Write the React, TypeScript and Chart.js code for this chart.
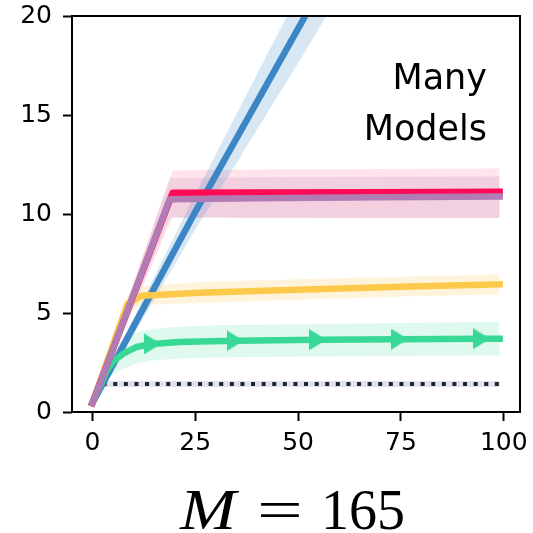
import React, { useEffect, useRef } from "react";
import { Chart, registerables } from "chart.js";
Chart.register(...registerables);

const xTicks = [0, 25, 50, 75, 100];
const yTicks = [0, 5, 10, 15, 20];

const blueX = [0, 25, 52, 99];
const blueY = [0.45, 10.1, 20.1, 38.0];
const blueLo = [0.35, 9.2, 18.3, 34.7];
const blueHi = [0.55, 11.0, 21.9, 41.3];

const redX = [0, 19.5, 40, 70, 99];
const redY = [0.45, 11.07, 11.08, 11.1, 11.12];
const redLo = [0.4, 9.85, 9.82, 9.8, 9.8];
const redHi = [0.5, 12.2, 12.25, 12.27, 12.3];

const purpleX = [0, 18.8, 40, 70, 99];
const purpleY = [0.45, 10.75, 10.8, 10.84, 10.88];
const purpleLo = [0.4, 9.8, 9.8, 9.8, 9.8];
const purpleHi = [0.5, 11.8, 11.85, 11.88, 11.9];

const yellowX = [0, 8.5, 12, 26, 50, 75, 99];
const yellowY = [0.45, 5.45, 5.87, 6.02, 6.18, 6.33, 6.45];
const yellowLo = [0.4, 5.0, 5.4, 5.5, 5.67, 5.83, 5.93];
const yellowHi = [0.5, 5.9, 6.35, 6.57, 6.7, 6.83, 6.95];

const greenX = [0, 3.5, 5, 7.5, 10.7, 14.6, 21, 26, 34.7, 54.8, 74.7, 94.6, 99];
const greenY = [0.45, 2.1, 2.55, 2.95, 3.28, 3.44, 3.53, 3.56, 3.6, 3.65, 3.68, 3.7, 3.7];
const greenLo = [0.4, 1.7, 1.9, 2.2, 2.45, 2.6, 2.7, 2.73, 2.76, 2.8, 2.83, 2.85, 2.85];
const greenHi = [0.5, 2.7, 3.2, 3.65, 4.0, 4.2, 4.3, 4.35, 4.4, 4.45, 4.5, 4.55, 4.55];
const greenMarkX = [14.6, 34.7, 54.8, 74.7, 94.6];
const greenMarkY = [3.44, 3.6, 3.65, 3.68, 3.7];

const baseX = [2.5, 99];
const baseY = [1.41, 1.41];
const baseLo = [1.26, 1.26];
const baseHi = [1.57, 1.57];

const BLUE = "#3c86c6";
const RED = "#ff0b55";
const PURPLE = "#b17cb3";
const YELLOW = "#fdc94a";
const GREEN = "#38d996";
const DARK = "#1a2636";

const pts = (xs: number[], ys: number[]) => xs.map((x, i) => ({ x, y: ys[i] }));

function band(xs: number[], lo: number[], hi: number[], color: string, order: number) {
  return [
    { data: pts(xs, lo), borderWidth: 0, borderColor: "transparent", pointRadius: 0, fill: false, order, clip: 0 },
    { data: pts(xs, hi), borderWidth: 0, borderColor: "transparent", pointRadius: 0, fill: "-1", backgroundColor: color, order, clip: 0 },
  ];
}

function line(xs: number[], ys: number[], color: string, order: number, extra: any = {}) {
  return {
    data: pts(xs, ys),
    borderColor: color,
    borderWidth: 6.5,
    borderCapStyle: "square",
    borderJoinStyle: "round",
    pointRadius: 0,
    fill: false,
    tension: 0,
    order,
    clip: 0,
    ...extra,
  };
}

function scaledText(ctx: CanvasRenderingContext2D, text: string, x: number, y: number, sx: number) {
  ctx.save();
  ctx.translate(x, y);
  ctx.scale(sx, 1);
  ctx.fillText(text, 0, 0);
  ctx.restore();
}

const decor = {
  id: "decor",
  afterDraw(chart: any) {
    const { ctx, chartArea: a } = chart;
    ctx.save();
    ctx.strokeStyle = "#000";
    ctx.lineWidth = 2;
    ctx.strokeRect(a.left, a.top, a.right - a.left, a.bottom - a.top);
    ctx.fillStyle = "#000";
    ctx.font = '35px "DejaVu Sans"';
    ctx.textAlign = "right";
    ctx.textBaseline = "alphabetic";
    ctx.fillText("Many", 487, 89);
    ctx.fillText("Models", 487, 140);
    ctx.textAlign = "center";
    ctx.font = 'italic 57px "Liberation Serif"';
    scaledText(ctx, "M", 208, 529, 1.18);
    ctx.font = '56px "Liberation Serif"';
    scaledText(ctx, "=", 280, 529, 1.45);
    ctx.fillText("165", 363, 529);
    ctx.restore();
  },
};

export default function App() {
  const ref = useRef<HTMLCanvasElement>(null);
  useEffect(() => {
    const tri = document.createElement("canvas");
    tri.width = 17;
    tri.height = 21;
    const tc = tri.getContext("2d")!;
    tc.fillStyle = GREEN;
    tc.beginPath();
    tc.moveTo(0, 0);
    tc.lineTo(17, 10.5);
    tc.lineTo(0, 21);
    tc.closePath();
    tc.fill();

    const datasets: any[] = [
      ...band(baseX, baseLo, baseHi, "rgba(28,42,58,0.13)", 20),
      ...band(greenX, greenLo, greenHi, "rgba(56,217,150,0.16)", 20),
      ...band(yellowX, yellowLo, yellowHi, "rgba(253,201,74,0.2)", 20),
      ...band(blueX, blueLo, blueHi, "rgba(60,134,198,0.2)", 20),
      ...band(redX, redLo, redHi, "rgba(255,11,85,0.11)", 20),
      ...band(purpleX, purpleLo, purpleHi, "rgba(177,124,179,0.17)", 20),
      line(baseX, baseY, DARK, 6, { borderWidth: 4, borderDash: [4, 6.6], borderCapStyle: "butt" }),
      line(blueX, blueY, BLUE, 5),
      line(greenX, greenY, GREEN, 4),
      {
        data: pts(greenMarkX, greenMarkY),
        showLine: false,
        pointStyle: tri,
        pointRadius: 10,
        pointHoverRadius: 10,
        order: 3,
        clip: 0,
      },
      line(yellowX, yellowY, YELLOW, 2),
      line(redX, redY, RED, 1),
      line(purpleX, purpleY, PURPLE, 0),
    ];

    const chart = new Chart(ref.current!, {
      type: "line",
      data: { datasets },
      options: {
        animation: false,
        responsive: false,
        devicePixelRatio: 1,
        events: [],
        layout: { padding: { top: 16, right: 13, bottom: 0, left: 0 } },
        plugins: { legend: { display: false }, tooltip: { enabled: false } },
        scales: {
          x: {
            type: "linear",
            min: -4.95,
            max: 103.95,
            afterBuildTicks: (s: any) => {
              s.ticks = xTicks.map((v) => ({ value: v }));
            },
            afterFit: (s: any) => {
              s.height = 121;
              s.paddingLeft = 0;
              s.paddingRight = 0;
            },
            grid: { drawOnChartArea: false, drawTicks: true, tickLength: 9, tickWidth: 2, tickColor: "#000" },
            border: { display: false },
            ticks: { color: "#000", padding: 7, maxRotation: 0, autoSkip: false, font: { family: "DejaVu Sans", size: 25 } },
          },
          y: {
            type: "linear",
            min: 0,
            max: 20,
            afterBuildTicks: (s: any) => {
              s.ticks = yTicks.map((v) => ({ value: v }));
            },
            afterFit: (s: any) => {
              s.width = 72;
              s.paddingTop = 0;
              s.paddingBottom = 0;
            },
            grid: { drawOnChartArea: false, drawTicks: true, tickLength: 9, tickWidth: 2, tickColor: "#000" },
            border: { display: false },
            ticks: { color: "#000", padding: 11, autoSkip: false, font: { family: "DejaVu Sans", size: 25 } },
          },
        },
      },
      plugins: [decor],
    } as any);
    return () => chart.destroy();
  }, []);

  return (
    <div style={{ position: "fixed", left: 0, top: 0, width: 533, height: 533, background: "#fff" }}>
      <canvas ref={ref} width={533} height={533} style={{ display: "block" }} />
    </div>
  );
}
